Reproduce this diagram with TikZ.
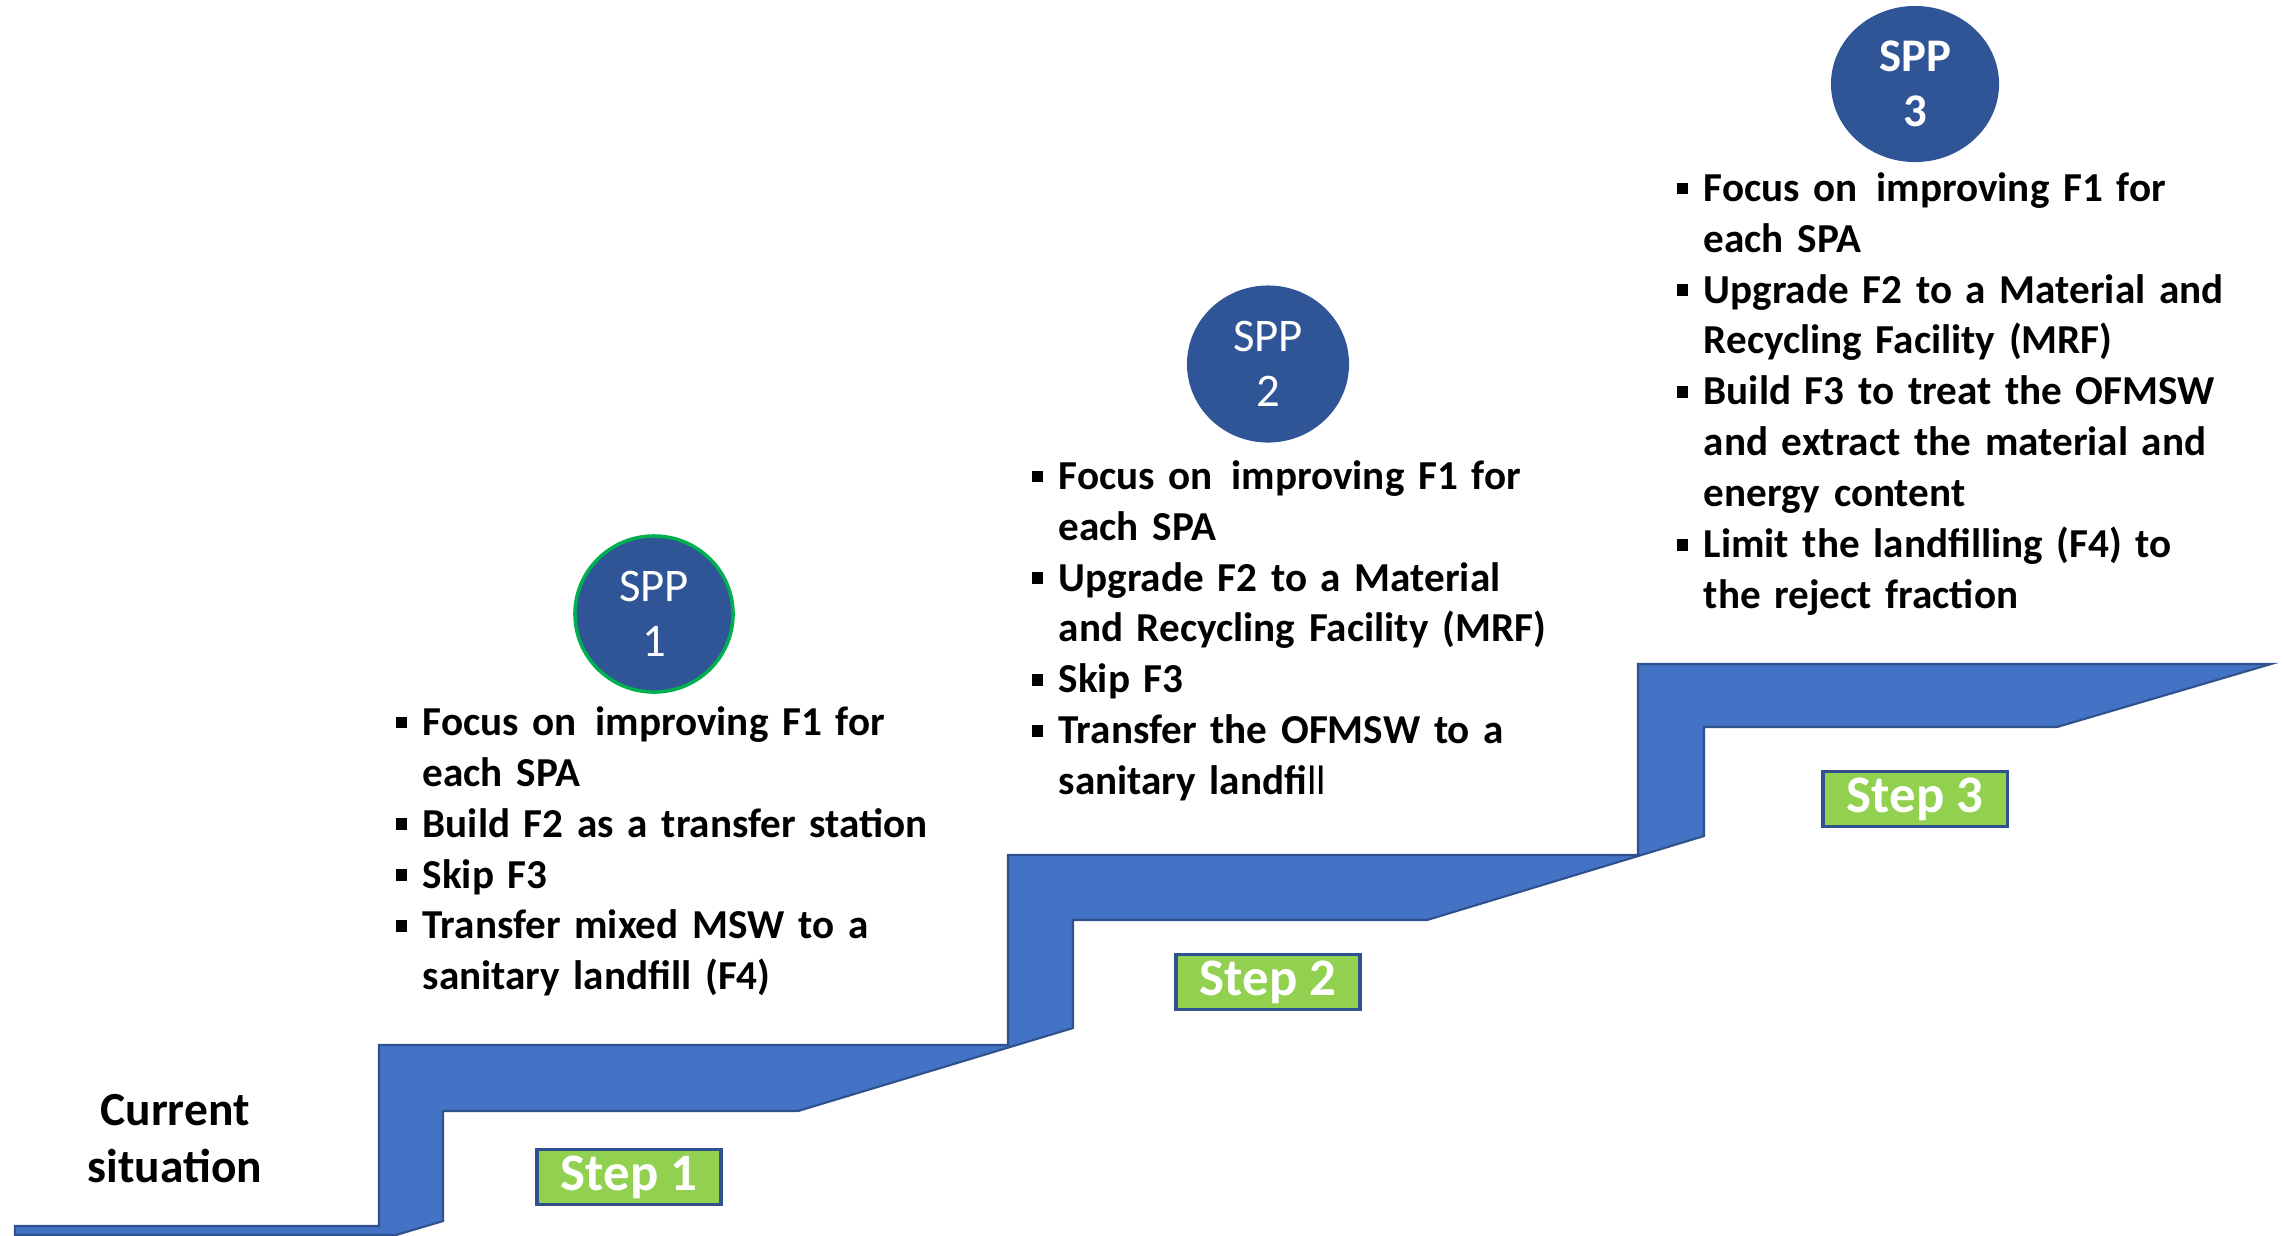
\documentclass[tikz,border=0pt]{standalone}
\usepackage{fontspec}
\setmainfont{Carlito}
\usetikzlibrary{shapes.geometric}
\definecolor{stairblue}{HTML}{4472C4}
\definecolor{stairedge}{HTML}{2F528F}
\definecolor{sppblue}{HTML}{2F5597}
\definecolor{sppgreen}{HTML}{00B050}
\definecolor{stepgreen}{HTML}{92D050}
\newcommand\bulletmark{\noindent\llap{\rule[0.18em]{0.27em}{0.27em}\hspace{0.16cm}}}
\newcommand\bulletitem{\par\bulletmark}
\newcommand\dblspace{\hspace{0.12em}\ }
\tikzset{
  stair/.style={fill=stairblue, draw=stairedge, line width=0.6pt, line join=miter},
  spp/.style={ellipse, fill=sppblue, text=white, align=center, inner sep=0pt,
    font=\fontsize{13.3}{15.6}\selectfont},
  stepbox/.style={rectangle, fill=stepgreen, draw=stairedge, line width=0.9pt,
    minimum width=1.84cm, minimum height=0.55cm, inner sep=0pt, text=white,
    font=\bfseries\fontsize{15}{18}\selectfont},
  bullets/.style={anchor=base west, text width=8cm, align=left, inner sep=0pt,
    font=\bfseries\fontsize{11.7}{14.5}\selectfont},
}
\begin{document}
\begin{tikzpicture}[x=0.01cm, y=-0.01cm]
\useasboundingbox (0,0) rectangle (2283,1235);
\begin{scope}
\clip (0,0) rectangle (2283,1235);
\path[stair] (15,1226) -- (379,1226) -- (379,1045) -- (1008,1045) -- (1008,855)
  -- (1638,855) -- (1638,664) -- (2271,664) -- (2057,727) -- (1704,727)
  -- (1704,836) -- (1427,920) -- (1073,920) -- (1073,1028) -- (798,1111)
  -- (443,1111) -- (443,1221) -- (396,1235) -- (15,1235) -- cycle;
\end{scope}

\node[font=\bfseries\fontsize{13.5}{16.2}\selectfont, align=center, text width=3cm, anchor=base, inner sep=0pt] (current) at (175,1125) {Current\\situation};

\node[stepbox] (step1) at (629,1177) {Step 1};
\node[stepbox] (step2) at (1268,982) {Step 2};
\node[stepbox] (step3) at (1915,799) {Step 3};

\node[spp, draw=sppgreen, line width=1pt, minimum width=1.58cm, minimum height=1.56cm] (spp1) at (654,614) {SPP\\1};
\node[spp, minimum width=1.62cm, minimum height=1.57cm] (spp2) at (1268,364) {SPP\\2};
\node[spp, minimum width=1.68cm, minimum height=1.56cm, font=\bfseries\fontsize{13.3}{15.6}\selectfont] (spp3) at (1915,84) {SPP\\3};

\node[bullets] (list1) at (422,735) {\bulletmark Focus on\dblspace improving F1 for\newline each SPA
\bulletitem Build F2 as a transfer station
\bulletitem Skip F3
\bulletitem Transfer mixed MSW to a\newline sanitary landfill (F4)};

\node[bullets] (list2) at (1058,489) {\bulletmark Focus on\dblspace improving F1 for\newline each SPA
\bulletitem Upgrade F2 to a Material\newline and Recycling Facility (MRF)
\bulletitem Skip F3
\bulletitem Transfer the OFMSW to a\newline sanitary landfi{\mdseries ll}};

\node[bullets] (list3) at (1703,201) {\bulletmark Focus on\dblspace improving F1 for\newline each SPA
\bulletitem Upgrade F2 to a Material and\newline Recycling Facility (MRF)
\bulletitem Build F3 to treat the OFMSW\newline and extract the material and\newline energy content
\bulletitem Limit the landfilling (F4) to\newline the reject fraction};
\end{tikzpicture}
\end{document}
